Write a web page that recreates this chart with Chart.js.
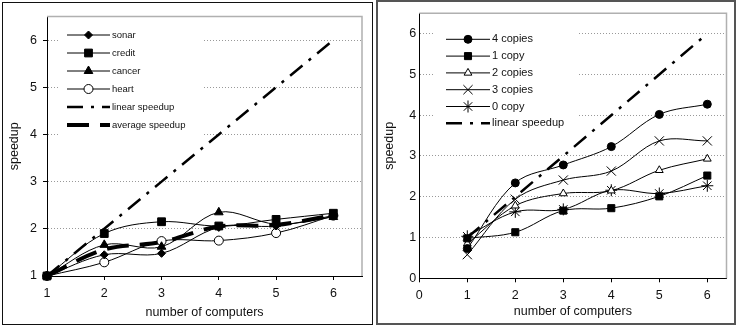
<!DOCTYPE html>
<html>
<head>
<meta charset="utf-8">
<script src="https://cdn.jsdelivr.net/npm/chart.js@4.4.1/dist/chart.umd.min.js"></script>
<style>
body { margin:0; background:#fff; width:736px; height:326px; position:relative; overflow:hidden; }
#boxA { position:absolute; left:2px; top:2px; width:369px; height:321px; border:1px solid #111; }
#boxB { position:absolute; left:376px; top:0px; width:356px; height:321px; border:2px solid #555; }
canvas { display:block; }
</style>
</head>
<body>
<div id="boxA"><canvas id="chartA" width="369" height="321"></canvas></div>
<div id="boxB"><canvas id="chartB" width="356" height="321"></canvas></div>
<script>
// x values, shared by both charts
const computers = [1, 2, 3, 4, 5, 6];

// left chart: speedup per data set
const sonar   = [1, 1.45, 1.48, 2.03, 2.06, 2.28];
const credit  = [1, 1.90, 2.15, 2.06, 2.20, 2.33];
const cancer  = [1, 1.66, 1.62, 2.35, 2.10, 2.25];
const heart   = [1, 1.29, 1.74, 1.75, 1.91, 2.28];
const linear  = [1, 2, 3, 4, 5, 6];
const average = [1, 1.56, 1.72, 2.05, 2.08, 2.29];

// right chart: speedup per number of copies
const copies4 = [0.73, 2.34, 2.78, 3.23, 4.02, 4.27];
const copies1 = [0.98, 1.13, 1.66, 1.72, 2.01, 2.52];
const copies2 = [0.85, 1.78, 2.08, 2.15, 2.65, 2.93];
const copies3 = [0.58, 1.94, 2.41, 2.63, 3.37, 3.37];
const copies0 = [1.03, 1.63, 1.69, 2.16, 2.08, 2.27];

const FONT = "'Liberation Sans', Arial, sans-serif";

function pts(arr) {
  return computers.map((c, i) => ({ x: c, y: arr[i] }));
}

function series(label, arr, style, radius, fill) {
  return {
    label: label,
    data: pts(arr),
    borderColor: '#000',
    borderWidth: 1,
    tension: 0.35,
    pointStyle: style,
    pointRadius: radius,
    pointBackgroundColor: fill,
    pointBorderColor: '#000',
    pointBorderWidth: 1,
    clip: false
  };
}

function dashed(label, arr, width, dash, tension) {
  return {
    label: label,
    data: pts(arr),
    borderColor: '#000',
    borderWidth: width,
    borderDash: dash,
    tension: tension,
    pointRadius: 0,
    clip: false
  };
}

// gray frame on top/right of the plot + legend drawn inside the plot
const plotExtras = {
  id: 'plotExtras',
  beforeDatasetsDraw(chart, args, o) {
    const ctx = chart.ctx;
    const a = chart.chartArea;
    ctx.save();
    ctx.strokeStyle = '#b0b0b0';
    ctx.lineWidth = 1.5;
    ctx.beginPath();
    ctx.moveTo(a.left, a.top);
    ctx.lineTo(a.right, a.top);
    ctx.lineTo(a.right, a.bottom);
    ctx.stroke();

    ctx.fillStyle = '#fff';
    ctx.fillRect(o.x, o.y, o.w, o.h);
    ctx.font = o.size + 'px ' + FONT;
    ctx.textBaseline = 'middle';
    chart.data.datasets.forEach((ds, i) => {
      const y = o.row0 + i * o.gap;
      ctx.strokeStyle = '#000';
      ctx.lineWidth = ds.borderWidth;
      ctx.setLineDash(ds.borderDash || []);
      ctx.beginPath();
      ctx.moveTo(o.x1, y);
      ctx.lineTo(o.x2, y);
      ctx.stroke();
      ctx.setLineDash([]);
      if (ds.pointRadius > 0) {
        ctx.fillStyle = ds.pointBackgroundColor;
        ctx.strokeStyle = '#000';
        ctx.lineWidth = 1;
        Chart.helpers.drawPoint(ctx, { pointStyle: ds.pointStyle, radius: ds.pointRadius, rotation: 0, borderWidth: 1 }, (o.x1 + o.x2) / 2, y);
      }
      ctx.fillStyle = '#111';
      ctx.fillText(ds.label, o.x2 + 2, y);
    });
    ctx.restore();
  }
};

function makeOptions(cfg) {
  return {
    responsive: false,
    animation: false,
    devicePixelRatio: 1,
    layout: { padding: cfg.padding },
    plugins: {
      legend: { display: false },
      tooltip: { enabled: false },
      plotExtras: cfg.legend
    },
    scales: {
      x: {
        type: 'linear',
        min: cfg.xmin, max: cfg.xmax,
        afterFit: (s) => { s.height = cfg.xh; },
        ticks: { stepSize: 1, includeBounds: false, padding: 6, color: '#111', font: { family: FONT, size: 12.5 } },
        grid: { drawOnChartArea: false, drawTicks: true, tickLength: 4, tickColor: '#000' },
        border: { color: '#000', width: 1 },
        title: { display: true, text: 'number of computers', color: '#111', font: { family: FONT, size: 12.5 } }
      },
      y: {
        min: cfg.ymin, max: 6.5,
        afterFit: (s) => { s.width = cfg.yw; },
        ticks: { stepSize: 1, includeBounds: false, padding: cfg.ypad, color: '#111', font: { family: FONT, size: 12.5 } },
        grid: { color: '#999', lineWidth: 1, tickLength: cfg.ytick, tickColor: '#000' },
        border: { color: '#000', width: 1, dash: [1, 2] },
        title: { display: true, text: 'speedup', color: '#111', font: { family: FONT, size: 12.5 } }
      }
    }
  };
}

new Chart(document.getElementById('chartA'), {
  type: 'line',
  data: {
    datasets: [
      series('sonar', sonar, 'rectRot', 4, '#000'),
      series('credit', credit, 'rect', 5.5, '#000'),
      series('cancer', cancer, 'triangle', 5, '#000'),
      series('heart', heart, 'circle', 4.5, '#fff'),
      dashed('linear speedup', linear, 2.5, [16, 8, 3, 8], 0),
      dashed('average speedup', average, 4, [22, 11], 0.35)
    ]
  },
  options: makeOptions({
    padding: { left: 0, right: 10, top: 10, bottom: 0 },
    xmin: 1, xmax: 6.5, ymin: 1, xh: 48, yw: 44, ypad: 6, ytick: 4,
    legend: { x: 57, y: 19, w: 144, h: 118, row0: 32, gap: 18, x1: 64, x2: 107, size: 9.5 }
  }),
  plugins: [plotExtras]
});

new Chart(document.getElementById('chartB'), {
  type: 'line',
  data: {
    datasets: [
      series('4 copies', copies4, 'circle', 4, '#000'),
      series('1 copy', copies1, 'rect', 5, '#000'),
      series('2 copies', copies2, 'triangle', 4.5, '#fff'),
      series('3 copies', copies3, 'crossRot', 6.5, '#000'),
      series('0 copy', copies0, 'star', 6, '#000'),
      dashed('linear speedup', linear, 2.5, [16, 8, 3, 8], 0)
    ]
  },
  options: makeOptions({
    padding: { left: 0, right: 5.7, top: 11.3, bottom: 0 },
    xmin: 0, xmax: 6.4, ymin: 0, xh: 44.7, yw: 41.3, ypad: 3, ytick: 0,
    legend: { x: 56, y: 23, w: 144, h: 107, row0: 37.3, gap: 16.8, x1: 68, x2: 112, size: 11 }
  }),
  plugins: [plotExtras]
});
</script>
</body>
</html>
